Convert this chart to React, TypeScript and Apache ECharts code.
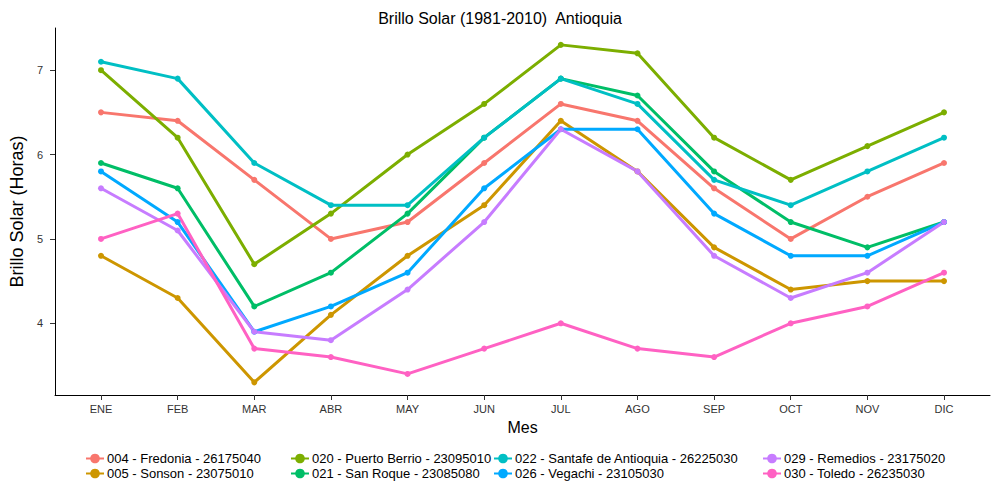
import React, { useEffect, useRef } from "react";
import * as echarts from "echarts";

const months = ["ENE","FEB","MAR","ABR","MAY","JUN","JUL","AGO","SEP","OCT","NOV","DIC"];
const names = [
  "004 - Fredonia - 26175040",
  "005 - Sonson - 23075010",
  "020 - Puerto Berrio - 23095010",
  "021 - San Roque - 23085080",
  "022 - Santafe de Antioquia - 26225030",
  "026 - Vegachi - 23105030",
  "029 - Remedios - 23175020",
  "030 - Toledo - 26235030",
];
const colors = ["#F8766D","#CD9600","#7CAE00","#00BE67","#00BFC4","#00A9FF","#C77CFF","#FF61C3"];
const fredonia = [6.5,6.4,5.7,5.0,5.2,5.9,6.6,6.4,5.6,5.0,5.5,5.9];
const sonson = [4.8,4.3,3.3,4.1,4.8,5.4,6.4,5.8,4.9,4.4,4.5,4.5];
const puertoBerrio = [7.0,6.2,4.7,5.3,6.0,6.6,7.3,7.2,6.2,5.7,6.1,6.5];
const sanRoque = [5.9,5.6,4.2,4.6,5.3,6.2,6.9,6.7,5.8,5.2,4.9,5.2];
const santafe = [7.1,6.9,5.9,5.4,5.4,6.2,6.9,6.6,5.7,5.4,5.8,6.2];
const vegachi = [5.8,5.2,3.9,4.2,4.6,5.6,6.3,6.3,5.3,4.8,4.8,5.2];
const remedios = [5.6,5.1,3.9,3.8,4.4,5.2,6.3,5.8,4.8,4.3,4.6,5.2];
const toledo = [5.0,5.3,3.7,3.6,3.4,3.7,4.0,3.7,3.6,4.0,4.2,4.6];
const allData = [fredonia, sonson, puertoBerrio, sanRoque, santafe, vegachi, remedios, toledo];
const yTicks = [4,5,6,7];
const xIdx = months.map((_, i) => i);

export default function App() {
  const ref = useRef<HTMLDivElement>(null);
  useEffect(() => {
    const chart = echarts.init(ref.current!, null, { renderer: "svg" });
    const font = "Arial, 'Liberation Sans', sans-serif";
    const colLeft = [80, 285, 488, 757];
    chart.setOption({
      animation: false,
      textStyle: { fontFamily: font },
      title: { text: "Brillo Solar (1981-2010)  Antioquia", left: "center", top: 5, textStyle: { fontSize: 16, fontWeight: "normal", color: "#000", fontFamily: font } },
      grid: { left: 38, right: 10, top: 28, bottom: 105 },
      legend: colLeft.map((l, c) => ({
        orient: "vertical", left: l, top: 447, itemGap: 2, itemWidth: 18, itemHeight: 12,
        data: [names[c * 2], names[c * 2 + 1]],
        textStyle: { fontSize: 13, color: "#000", fontFamily: font, padding: [0, 0, 0, -2] },
      })),
      xAxis: {
        type: "value", min: -0.6, max: 11.6,
        name: "Mes", nameLocation: "middle", nameGap: 24, nameTextStyle: { fontSize: 16, color: "#000" },
        axisLine: { show: true, onZero: false, lineStyle: { color: "#000" } },
        axisTick: { show: true, customValues: xIdx, lineStyle: { color: "#333" } },
        axisLabel: { customValues: xIdx, formatter: (v: number) => months[Math.round(v)], color: "#333", fontSize: 11 },
        splitLine: { show: false },
      },
      yAxis: {
        type: "value", min: 3.15, max: 7.5,
        name: "Brillo Solar (Horas)", nameLocation: "middle", nameGap: 18, nameTextStyle: { fontSize: 18, color: "#000" },
        axisLine: { show: true, onZero: false, lineStyle: { color: "#000" } },
        axisTick: { show: true, customValues: yTicks, lineStyle: { color: "#333" } },
        axisLabel: { customValues: yTicks, color: "#333", fontSize: 11, margin: 12 },
        splitLine: { show: false },
      },
      series: allData.map((d, i) => ({
        type: "line", name: names[i], data: d.map((v, j) => [j, v]),
        color: colors[i], lineStyle: { width: 3 }, symbol: "circle", symbolSize: 6,
        itemStyle: { color: colors[i] },
      })),
    });
    return () => chart.dispose();
  }, []);
  return <div ref={ref} style={{ width: 1000, height: 500, margin: -8 }} />;
}
